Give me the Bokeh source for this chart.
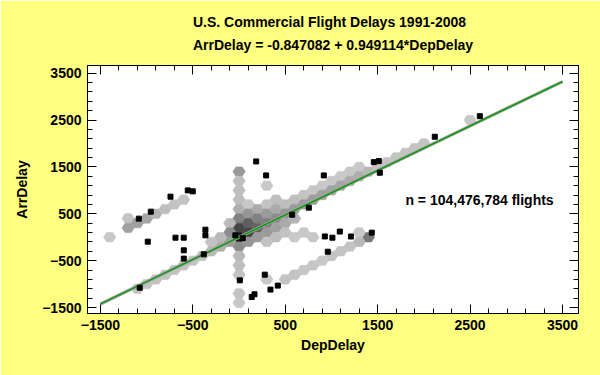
from bokeh.plotting import figure
from bokeh.models import LinearAxis, FixedTicker, Label, ColumnDataSource
from bokeh.embed import file_html
from bokeh.resources import INLINE

# ---- data ----
title_main = "U.S. Commercial Flight Delays 1991-2008"
title_sub = "ArrDelay = -0.847082 + 0.949114*DepDelay"
intercept = -0.847082
slope = 0.949114
n_label = "n = 104,476,784 flights"

major_ticks = [-1500, -500, 500, 1500, 2500, 3500]
minor_ticks = [-1500, -1300, -1100, -900, -700, -500, -300, -100, 100, 300, 500, 700, 900,
               1100, 1300, 1500, 1700, 1900, 2100, 2300, 2500, 2700, 2900, 3100, 3300, 3500]

# hexagon bin centres (DepDelay, ArrDelay) and grey level of each bin
hex_x = [0, 0, 0, 0, 0, 0, 0, 0, 0, 0, 0, 0, 0, 0,
         100, 100, 100, 100, 100,
         200, 200, 200, 200,
         300, 300, 300, 300, 300, 300,
         400, 400, 400, 400, 400,
         500, 500, 500, 500,
         600, 600, 600, 600,
         700, 700, 700,
         800, 800, 800,
         900, 900, 1000, 1000, 1100, 1100, 1200, 1200, 1300, 1300, 1400,
         1500, 1600, 1700, 1800, 1900, 2000, 2500,
         1400, 1300, 1300, 1200, 1100, 1000, 900, 800, 700, 600, 500, 300,
         -100, -100, -100, -200, -200, -300, -300, -400, -500, -600, -700, -800, -900, -1000, -1100,
         -1400, -1200, -1200, -1100, -1000, -900, -800, -700, -600]
hex_y = [1400, 1200, 1000, 800, 600, 400, 200, 0, -200, -400, -600, -800, -1200, -1400,
         700, 500, 300, 100, -100,
         600, 400, 200, 0,
         1100, 700, 500, 300, 100, -100,
         800, 600, 400, 200, 0,
         700, 500, 300, 100,
         800, 600, 400, 0,
         900, 700, 100,
         1000, 800, 0,
         1100, 900, 1200, 1000, 1300, 1100, 1400, 1200, 1500, 1300, 1400,
         1500, 1600, 1700, 1800, 1900, 2000, 2500,
         0, 100, -100, -200, -300, -400, -500, -600, -700, -800, -900, -900,
         300, 100, -100, 0, -200, -100, -300, -400, -500, -600, -700, -800, -900, -1000, -1100,
         0, 400, 200, 300, 400, 500, 600, 700, 800]
hex_gray = [153, 190, 190, 190, 175, 130, 70, 25, 140, 185, 190, 195, 195, 200,
            200, 150, 95, 70, 150,
            170, 130, 100, 155,
            200, 195, 155, 125, 155, 195,
            190, 170, 140, 160, 190,
            190, 150, 170, 195,
            190, 155, 180, 200,
            195, 155, 200,
            198, 158, 200,
            200, 160, 200, 162, 200, 165, 200, 170, 200, 175, 185,
            195, 195, 195, 195, 195, 195, 200,
            120, 200, 185, 195, 195, 195, 200, 198, 198, 195, 195, 200,
            185, 140, 155, 185, 175, 195, 185, 195, 195, 195, 195, 195, 195, 195, 198,
            200, 195, 160, 160, 165, 180, 190, 195, 195]

# single flights drawn as points
pt_x = [185, 293, 917, 2605, 2118, 1458, 1512, 1523, -1085, -955, -742, -555, -501, -988,
        -688, -599, -598, -598, -364, -364, -382, -1075, 8, 278, 340, 167, 137, 419, 755,
        575, 928, 960, 1010, 1090, 1211, 1436, -40, 40]
pt_y = [1617, 1319, 1319, 2583, 2144, 1602, 1624, 1376, 396, 545, 865, 999, 978, -95,
        -10, -10, -280, -457, 161, 40, -366, -1078, -921, -799, -1118, -1218, -1276, -1033, 630,
        480, 16, -310, -10, 120, 15, 97, 40, -20]

FONT = "Liberation Sans"
BG = "#FFFF80"

p = figure(frame_width=491, frame_height=248,
           x_range=(-1640, 3673), y_range=(-1628, 3664),
           output_backend="svg", toolbar_location=None,
           title=title_main + "\n" + title_sub,
           min_border_left=87, min_border_right=22, min_border_top=65, min_border_bottom=62)
p.background_fill_color = "white"
p.border_fill_color = BG
p.outline_line_color = "black"
p.outline_line_width = 1
p.grid.visible = False

p.title.align = "center"
p.title.text_font = FONT
p.title.text_font_size = "14px"
p.title.text_font_style = "bold"
p.title.text_color = "black"
p.title.text_line_height = 1.45
p.title.standoff = 24

# hexagons in data units (flat-top)
half_w = 66.7
half_h = 100.0
xs, ys, cols = [], [], []
for cx, cy, g in zip(hex_x, hex_y, hex_gray):
    xs.append([cx - half_w, cx - half_w / 2, cx + half_w / 2, cx + half_w, cx + half_w / 2, cx - half_w / 2])
    ys.append([cy, cy + half_h, cy + half_h, cy, cy - half_h, cy - half_h])
    cols.append("#%02x%02x%02x" % (g, g, g))
src = ColumnDataSource(dict(xs=xs, ys=ys, c=cols))
p.patches("xs", "ys", source=src, fill_color="c", line_color="c", line_width=0.6)

# regression line
lx = [major_ticks[0], major_ticks[-1]]
ly = [intercept + slope * v for v in lx]
p.line(lx, ly, line_color="#a0a0a0", line_width=3.2)
p.line(lx, ly, line_color="#009a00", line_width=1.3)

# points
p.scatter(pt_x, pt_y, marker="square", size=5, fill_color="black", line_color="black")

p.add_layout(Label(x=1800, y=800, text=n_label, text_font=FONT, text_font_size="14px",
                   text_font_style="bold", text_baseline="middle", text_color="black"))

ticker = FixedTicker(ticks=major_ticks, minor_ticks=minor_ticks)


def style_axis(ax, show_labels):
    ax.ticker = ticker
    ax.major_tick_in = 9
    ax.major_tick_out = 0
    ax.minor_tick_in = 5
    ax.minor_tick_out = 0
    ax.axis_line_color = "black"
    ax.major_tick_line_color = "black"
    ax.minor_tick_line_color = "black"
    ax.major_label_text_font = FONT
    ax.major_label_text_font_style = "bold"
    ax.axis_label_text_font = FONT
    ax.axis_label_text_font_style = "bold"
    ax.axis_label_text_font_size = "14px"
    ax.axis_label_text_color = "black"
    if show_labels:
        ax.major_label_text_color = "black"
        ax.major_label_text_font_size = "14px"
        ax.major_label_standoff = 6
    else:
        ax.major_label_text_color = None
        ax.major_label_text_font_size = "1px"
        ax.major_label_standoff = 0


style_axis(p.xaxis[0], True)
style_axis(p.yaxis[0], True)
p.xaxis[0].axis_label = "DepDelay"
p.yaxis[0].axis_label = "ArrDelay"
p.xaxis[0].axis_label_standoff = 4
p.yaxis[0].axis_label_standoff = 9

top_ax = LinearAxis()
style_axis(top_ax, False)
p.add_layout(top_ax, "above")
right_ax = LinearAxis()
style_axis(right_ax, False)
p.add_layout(right_ax, "right")

open("out.html", "w").write(file_html(p, INLINE))
